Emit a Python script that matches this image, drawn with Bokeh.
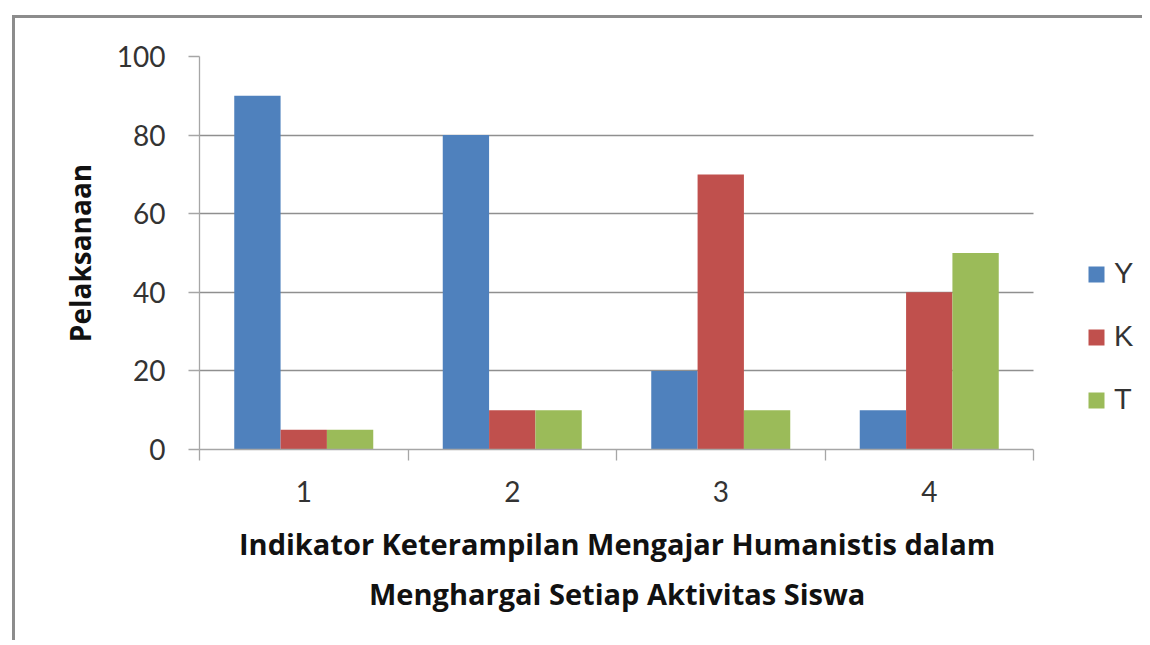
from bokeh.plotting import figure
from bokeh.models import FixedTicker, Range1d, Legend, LegendItem, ColumnDataSource, BoxAnnotation, Title
from bokeh.embed import file_html
from bokeh.resources import INLINE

categories = [1, 2, 3, 4]
series_names = ["Y", "K", "T"]
y_vals = [90, 80, 20, 10]
k_vals = [5, 10, 70, 40]
t_vals = [5, 10, 10, 50]
colors = ["#4F81BD", "#C0504D", "#9BBB59"]
y_ticks = [0, 20, 40, 60, 80, 100]
x_title_lines = ["Indikator Keterampilan Mengajar Humanistis dalam",
                 "Menghargai Setiap Aktivitas Siswa"]
y_title = "Pelaksanaan"

W, H = 1130, 625
FL, FT, FB = 184, 38, 431
CAT_W = 834
# the plot frame runs to the canvas' right edge; the category axis covers 0.5..4.5
# (834 px) and the remaining strip on the right holds the legend.
x_end = 4.5 + (W - FL - CAT_W) / (CAT_W / 4.0)
p = figure(width=W, height=H, output_backend="svg", toolbar_location=None,
           x_range=Range1d(0.5, x_end), y_range=Range1d(0, 100),
           min_border_left=FL, min_border_top=FT, min_border_right=0,
           min_border_bottom=H - FB)
p.margin = (15, 0, 0, 12)
p.styles = {"border-top": "3px solid #8c8c8c", "border-left": "3px solid #8c8c8c"}
p.outline_line_color = None
p.background_fill_color = "white"
p.border_fill_color = "white"

bw = 1 / 4.5
renderers = []
for i, (name, vals) in enumerate(zip(series_names, [y_vals, k_vals, t_vals])):
    src = ColumnDataSource(dict(x=[c + (i - 1) * bw for c in categories], top=vals))
    r = p.vbar(x="x", top="top", width=bw, bottom=0, source=src,
               fill_color=colors[i], line_color=None)
    renderers.append(r)

# hide gridlines beyond the category area
p.add_layout(BoxAnnotation(left=4.5, fill_color="white", fill_alpha=1.0, line_color=None))

# x axis
p.xaxis.bounds = (0.5, 4.5)
p.xaxis.ticker = FixedTicker(ticks=categories, minor_ticks=[0.5, 1.5, 2.5, 3.5, 4.5])
p.xaxis.major_tick_line_color = None
p.xaxis.major_tick_out = 0
p.xaxis.major_tick_in = 0
p.xaxis.minor_tick_line_color = "#a6a6a6"
p.xaxis.minor_tick_line_width = 1.3
p.xaxis.minor_tick_out = 11
p.xaxis.minor_tick_in = 0
p.xaxis.axis_line_color = "#a6a6a6"
p.xaxis.axis_line_width = 1.3
p.xaxis.major_label_text_font = "Lato"
p.xaxis.major_label_text_font_size = "28px"
p.xaxis.major_label_text_color = "#333333"
p.xaxis.major_label_standoff = 20

# x axis title: two left-aligned titles whose offsets centre them on the category area
line_widths = [755, 495]  # approx. rendered widths of the two lines (px)
standoffs = [34, -15]
for txt, lw, so in zip(x_title_lines, line_widths, standoffs):
    t = Title(text=txt, align="left", offset=CAT_W / 2 - lw / 2,
              text_font="Open Sans", text_font_style="bold", text_font_size="29px",
              text_color="#111111", standoff=so)
    p.add_layout(t, "below")

# y axis
p.yaxis.ticker = FixedTicker(ticks=y_ticks)
p.yaxis.minor_tick_line_color = None
p.yaxis.major_tick_line_color = "#a6a6a6"
p.yaxis.major_tick_line_width = 1.3
p.yaxis.major_tick_out = 11
p.yaxis.major_tick_in = 0
p.yaxis.axis_line_color = "#a6a6a6"
p.yaxis.axis_line_width = 1.3
p.yaxis.major_label_text_font = "Lato"
p.yaxis.major_label_text_font_size = "28px"
p.yaxis.major_label_text_color = "#333333"
p.yaxis.major_label_standoff = 23
p.yaxis.axis_label = y_title
p.yaxis.axis_label_text_font = "Open Sans"
p.yaxis.axis_label_text_font_style = "bold"
p.yaxis.axis_label_text_font_size = "28px"
p.yaxis.axis_label_text_color = "#111111"
p.yaxis.axis_label_standoff = 15

p.xgrid.grid_line_color = None
p.ygrid.grid_line_color = "#8f8f8f"
p.ygrid.grid_line_width = 1.3

legend = Legend(items=[LegendItem(label=n, renderers=[r]) for n, r in zip(series_names, renderers)],
                location=(887, 33), orientation="vertical",
                glyph_width=20, glyph_height=20, label_height=20, spacing=30,
                padding=0, margin=0, border_line_color=None, background_fill_alpha=0,
                label_text_font="Liberation Sans", label_text_font_size="29px",
                label_text_color="#333333", label_standoff=8)
p.add_layout(legend, "center")

open("out.html", "w").write(file_html(p, INLINE))
